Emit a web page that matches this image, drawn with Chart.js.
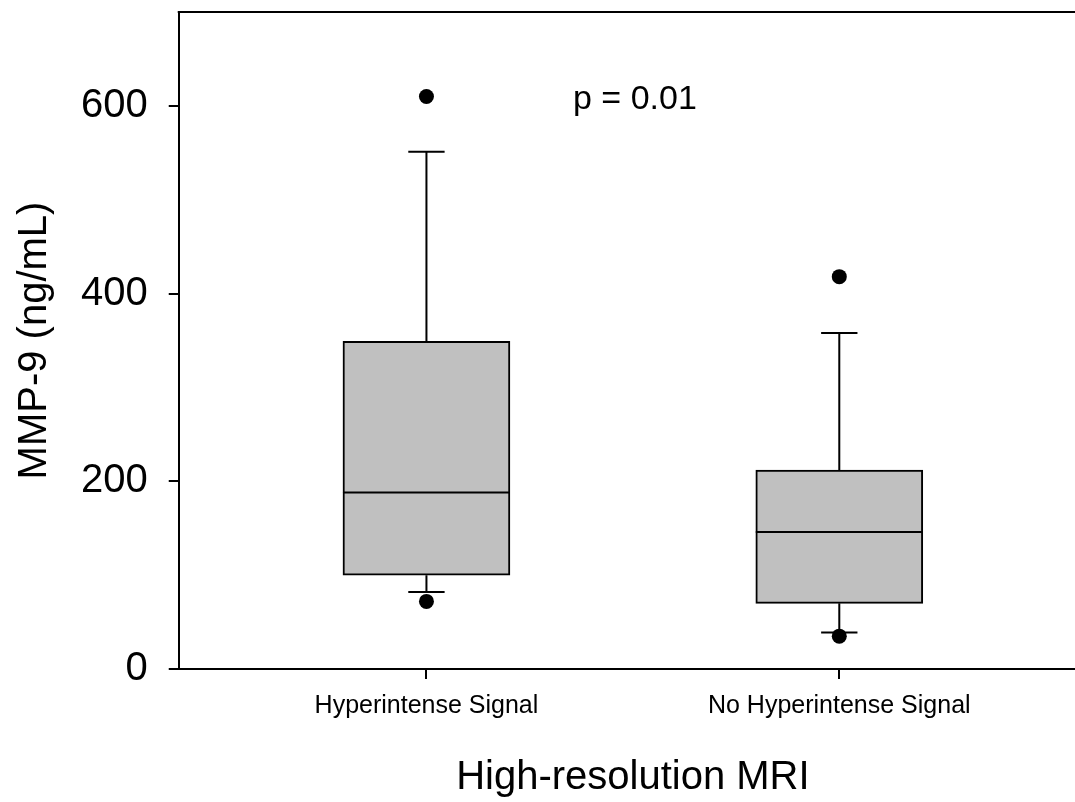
<!DOCTYPE html>
<html>
<head>
<meta charset="utf-8">
<title>MMP-9 by high-resolution MRI</title>
<script src="https://cdn.jsdelivr.net/npm/chart.js@4/dist/chart.umd.min.js"></script>
<style>
    html, body { margin: 0; padding: 0; background: #fff; overflow: hidden; }
    #wrap { position: absolute; left: 0; top: 0; width: 1100px; height: 802px; }
</style>
</head>
<body>
<div id="wrap"><canvas id="boxChart"></canvas></div>
<script>
// Groups and their positions on the x axis
const groups = ['Hyperintense Signal', 'No Hyperintense Signal'];
const groupPos = [1, 2];

// Box plot summary per group (ng/mL)
const lowerWhisker = [82, 39];
const q1 = [100, 70];
const median = [188, 146];
const q3 = [349, 212];
const upperWhisker = [551, 358];
const outliers = [[72, 610], [35, 418]];

const yTicks = [0, 200, 400, 600];
const pText = 'p = 0.01';
const pAt = { x: 1.355, y: 607 };

const FONT = "'Liberation Sans', Arial, Helvetica, sans-serif";
const capHalf = 0.044;

// Whiskers, caps, medians, the top frame line and the p value label
const boxExtras = {
    id: 'boxExtras',
    afterDatasetsDraw(chart) {
        const { ctx, chartArea, scales: { x, y } } = chart;
        const bars = chart.getDatasetMeta(0).data;
        ctx.save();
        ctx.strokeStyle = '#000';
        ctx.lineWidth = 2;
        ctx.lineCap = 'butt';
        groupPos.forEach((pos, i) => {
            const cx = x.getPixelForValue(pos);
            const capL = x.getPixelForValue(pos - capHalf);
            const capR = x.getPixelForValue(pos + capHalf);
            ctx.beginPath();
            ctx.moveTo(cx, y.getPixelForValue(q3[i]));
            ctx.lineTo(cx, y.getPixelForValue(upperWhisker[i]));
            ctx.moveTo(cx, y.getPixelForValue(q1[i]));
            ctx.lineTo(cx, y.getPixelForValue(lowerWhisker[i]));
            ctx.moveTo(capL, y.getPixelForValue(upperWhisker[i]));
            ctx.lineTo(capR, y.getPixelForValue(upperWhisker[i]));
            ctx.moveTo(capL, y.getPixelForValue(lowerWhisker[i]));
            ctx.lineTo(capR, y.getPixelForValue(lowerWhisker[i]));
            const bar = bars[i];
            const my = y.getPixelForValue(median[i]);
            ctx.moveTo(bar.x - bar.width / 2, my);
            ctx.lineTo(bar.x + bar.width / 2, my);
            ctx.stroke();
        });
        // frame line along the top of the plot
        ctx.beginPath();
        ctx.moveTo(chartArea.left - 1, chartArea.top);
        ctx.lineTo(chartArea.right, chartArea.top);
        ctx.stroke();

        ctx.fillStyle = '#000';
        ctx.font = '34px ' + FONT;
        ctx.textAlign = 'left';
        ctx.textBaseline = 'middle';
        ctx.fillText(pText, x.getPixelForValue(pAt.x), y.getPixelForValue(pAt.y));
        ctx.restore();
    }
};

const outlierPoints = [];
outliers.forEach((vals, i) => vals.forEach(v => outlierPoints.push({ x: groupPos[i], y: v })));

new Chart(document.getElementById('boxChart'), {
    type: 'bar',
    data: {
        datasets: [
            {
                label: 'IQR',
                data: groupPos.map((pos, i) => ({ x: pos, y: [q1[i], q3[i]] })),
                backgroundColor: '#c0c0c0',
                borderColor: '#000',
                borderWidth: 2,
                borderSkipped: false,
                barThickness: 167,
                order: 2
            },
            {
                type: 'line',
                label: 'Outliers',
                data: outlierPoints,
                showLine: false,
                pointRadius: 7.5,
                pointBackgroundColor: '#000',
                pointBorderWidth: 0,
                order: 1
            }
        ]
    },
    options: {
        responsive: true,
        maintainAspectRatio: false,
        animation: false,
        layout: { padding: { top: 12, right: 13, bottom: 0, left: 0 } },
        plugins: {
            legend: { display: false },
            tooltip: { enabled: false }
        },
        scales: {
            x: {
                type: 'linear',
                min: 0.4,
                max: 2.6,
                offset: false,
                afterBuildTicks: (axis) => { axis.ticks = groupPos.map(v => ({ value: v })); },
                afterFit: (axis) => { axis.paddingLeft = 0; axis.paddingRight = 0; },
                ticks: {
                    autoSkip: false,
                    maxRotation: 0,
                    padding: 12,
                    color: '#000',
                    font: { family: FONT, size: 25 },
                    callback: (v) => groups[groupPos.indexOf(v)]
                },
                grid: { display: true, offset: false, drawOnChartArea: false, drawTicks: true, tickLength: 10, color: '#000', lineWidth: 2 },
                border: { display: true, color: '#000', width: 2 },
                title: {
                    display: true,
                    text: 'High-resolution MRI',
                    color: '#000',
                    font: { family: FONT, size: 40 },
                    padding: { top: 21, bottom: 0 }
                }
            },
            y: {
                min: 0,
                max: 700,
                afterBuildTicks: (axis) => { axis.ticks = yTicks.map(v => ({ value: v })); },
                afterFit: (axis) => { axis.paddingTop = 0; },
                ticks: {
                    padding: 21,
                    color: '#000',
                    font: { family: FONT, size: 40 }
                },
                grid: { display: true, drawOnChartArea: false, drawTicks: true, tickLength: 10, color: '#000', lineWidth: 2 },
                border: { display: true, color: '#000', width: 2 },
                title: {
                    display: true,
                    text: 'MMP-9 (ng/mL)',
                    color: '#000',
                    font: { family: FONT, size: 40 },
                    padding: { top: 11, bottom: 1 }
                }
            }
        }
    },
    plugins: [boxExtras]
});
</script>
</body>
</html>
